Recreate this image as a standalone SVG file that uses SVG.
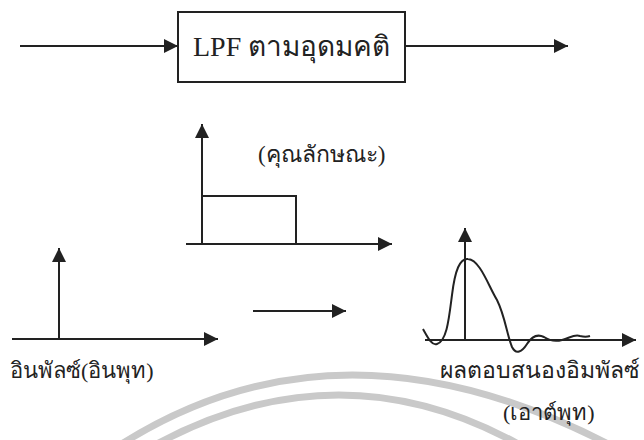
<svg xmlns="http://www.w3.org/2000/svg" width="644" height="440" viewBox="0 0 644 440">
<defs>
<marker id="ah" viewBox="0 0 10 10" refX="10" refY="5" markerWidth="14" markerHeight="14" markerUnits="userSpaceOnUse" orient="auto">
<path d="M0,0 L10,5 L0,10 z" fill="#222"/>
</marker>
</defs>
<style>
.ln{stroke:#222;stroke-width:2;fill:none}
.ax{stroke:#222;stroke-width:2;fill:none;marker-end:url(#ah)}
.t{font-family:"Liberation Serif","Noto Sans",serif;fill:#222}
.wm{stroke:#c9c9c9;stroke-width:7;fill:none}
</style>
<rect width="644" height="440" fill="#fff"/>
<g id="watermark">
<path class="wm" d="M120,445 Q340,305 610,445"/>
<path class="wm" d="M155,445 Q340,345 520,445"/>
</g>
<g id="connectors">
<line class="ax" x1="20" y1="46" x2="178" y2="46"/>
<line class="ax" x1="405" y1="46" x2="568" y2="46"/>
<line class="ax" x1="253" y1="311" x2="346" y2="311"/>
</g>
<g id="lpf">
<rect x="178" y="12" width="227" height="70" fill="#fff" stroke="#222" stroke-width="2"/>
<text class="t" x="193" y="56" font-size="28">LPF ตามอุดมคติ</text>
</g>
<g id="characteristic">
<line class="ax" x1="202" y1="244" x2="202" y2="124"/>
<line class="ax" x1="186" y1="244" x2="392" y2="244"/>
<polyline class="ln" points="202,196 296,196 296,244"/>
<text class="t" x="258" y="162" font-size="23">(คุณลักษณะ)</text>
</g>
<g id="input">
<line class="ax" x1="59" y1="339" x2="59" y2="248"/>
<line class="ax" x1="12" y1="339" x2="218" y2="339"/>
<text class="t" x="10" y="378" font-size="22">อินพัลซ์(อินพุท)</text>
</g>
<g id="output">
<line class="ax" x1="465" y1="340" x2="465" y2="228"/>
<line class="ax" x1="425" y1="340" x2="636" y2="340"/>
<path class="ln" d="M423,329 C428,338 432,346 437,344 C447,341 449,318 452,295 C455,270 460,258 468,259 C480,260 488,285 497,300 C505,316 507,335 512,347 C516,355 522,352 527,344 C532,336 538,334 544,337 C550,341 555,342 562,340 C570,338 574,334 580,336 C584,337 587,337 590,336"/>
<text class="t" x="440" y="378" font-size="23">ผลตอบสนองอิมพัลซ์</text>
<text class="t" x="503" y="420" font-size="22">(เอาต์พุท)</text>
</g>
</svg>
